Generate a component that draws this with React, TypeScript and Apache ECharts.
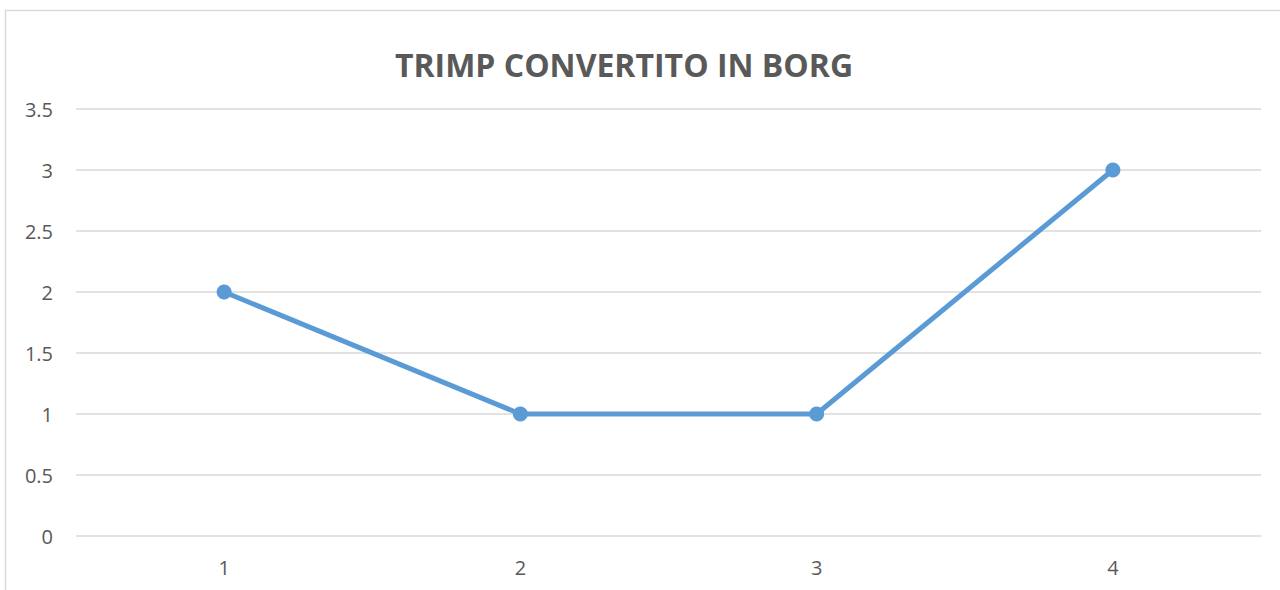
import React, { useEffect, useRef } from "react";
import * as echarts from "echarts";

const chartTitle = "TRIMP CONVERTITO IN BORG";
const categories = ["1", "2", "3", "4"];
const values = [2, 1, 1, 3];
const yMin = 0;
const yMax = 3.5;
const yStep = 0.5;

export default function App() {
  const ref = useRef<HTMLDivElement>(null);

  useEffect(() => {
    if (!ref.current) return;
    const chart = echarts.init(ref.current, null, { renderer: "svg" });
    chart.setOption({
      animation: false,
      backgroundColor: "#ffffff",
      graphic: [
        {
          type: "rect",
          shape: { x: 5.5, y: 10.5, width: 1300, height: 620 },
          style: { fill: "none", stroke: "#d9d9d9", lineWidth: 1.5 },
          silent: true,
        },
        {
          type: "text",
          x: 624,
          y: 64,
          style: {
            text: chartTitle,
            align: "center",
            verticalAlign: "middle",
            fontFamily: "Open Sans",
            fontWeight: "bold",
            fontSize: 32,
            fill: "#595959",
          },
          silent: true,
        },
      ],
      grid: { left: 76, right: 19, top: 109, bottom: 54, containLabel: false },
      xAxis: {
        type: "category",
        data: categories,
        boundaryGap: true,
        axisLine: { show: false },
        axisTick: { show: false },
        axisLabel: {
          color: "#595959",
          fontFamily: "Open Sans",
          fontSize: 20,
          margin: 21,
        },
      },
      yAxis: {
        type: "value",
        min: yMin,
        max: yMax,
        interval: yStep,
        axisLine: { show: false },
        axisTick: { show: false },
        splitLine: { lineStyle: { color: "#d9d9d9", width: 1.5 } },
        axisLabel: {
          color: "#595959",
          fontFamily: "Open Sans",
          fontSize: 20,
          margin: 23,
        },
      },
      series: [
        {
          type: "line",
          data: values,
          symbol: "circle",
          symbolSize: 15,
          lineStyle: { color: "#5b9bd5", width: 5 },
          itemStyle: { color: "#5b9bd5" },
        },
      ],
    });
    return () => chart.dispose();
  }, []);

  return (
    <div
      ref={ref}
      style={{ position: "absolute", left: 0, top: 0, width: 1280, height: 590 }}
    />
  );
}
